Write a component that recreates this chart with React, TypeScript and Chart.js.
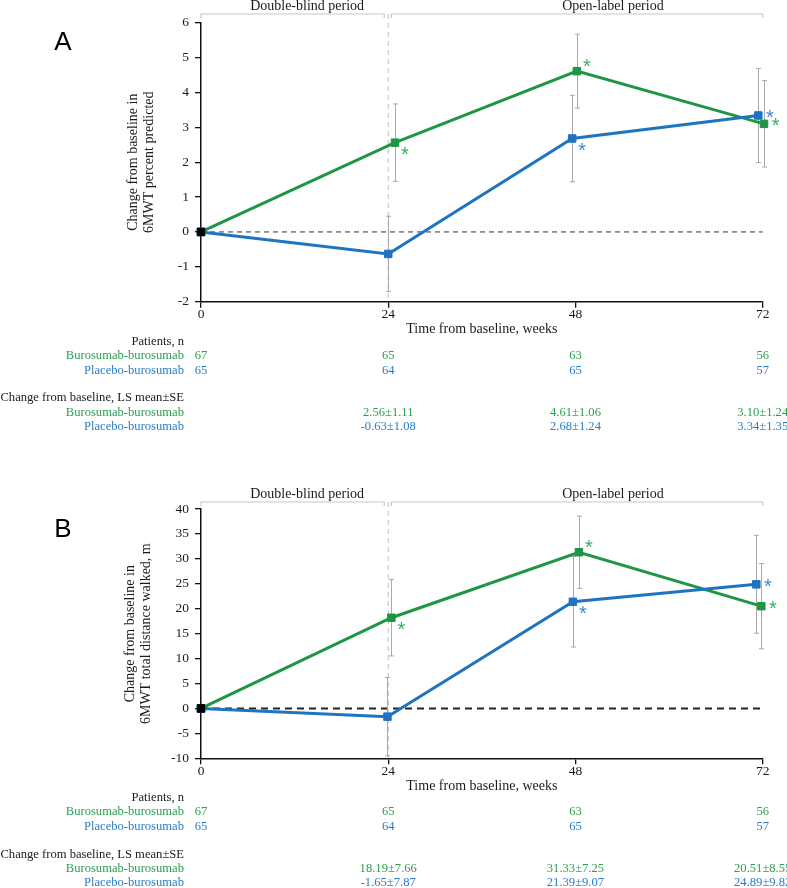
import React, { useEffect, useRef } from 'react';
import { Chart, registerables } from 'chart.js';
Chart.register(...registerables);

const SERIF = "'Liberation Serif', 'Times New Roman', serif";
const SANS = "'Liberation Sans', Arial, sans-serif";

// ---------- shared ----------
const weeks = [0, 24, 48, 72];
const periodLabels = ['Double-blind period', 'Open-label period'];
const groupNames = ['Burosumab-burosumab', 'Placebo-burosumab'];
const xTitle = 'Time from baseline, weeks';

// ---------- Panel A ----------
const aGreenMean = [0, 2.56, 4.61, 3.1];
const aGreenSE = [0, 1.11, 1.06, 1.24];
const aBlueMean = [0, -0.63, 2.68, 3.34];
const aBlueSE = [0, 1.08, 1.24, 1.35];
const aGreenDodge = [0, 0.86, 0.18, 0.17];
const aBlueDodge = [0, 0, -0.42, -0.56];
const aGreenStar = ['', 'se', 'ne', 'e'];
const aBlueStar = ['', '', 'se', 'e'];
const aGreenN = ['67', '65', '63', '56'];
const aBlueN = ['65', '64', '65', '57'];
const aGreenLS = ['', '2.56±1.11', '4.61±1.06', '3.10±1.24'];
const aBlueLS = ['', '-0.63±1.08', '2.68±1.24', '3.34±1.35'];
const aYTitle = ['Change from baseline in', '6MWT percent predicted'];

// ---------- Panel B ----------
const bGreenMean = [0, 18.19, 31.33, 20.51];
const bGreenSE = [0, 7.66, 7.25, 8.55];
const bBlueMean = [0, -1.65, 21.39, 24.89];
const bBlueSE = [0, 7.87, 9.07, 9.82];
const bGreenDodge = [0, 0.4, 0.44, -0.18];
const bBlueDodge = [0, -0.1, -0.33, -0.82];
const bGreenStar = ['', 'se', 'ne', 'e'];
const bBlueStar = ['', '', 'se', 'e'];
const bGreenN = ['67', '65', '63', '56'];
const bBlueN = ['65', '64', '65', '57'];
const bGreenLS = ['', '18.19±7.66', '31.33±7.25', '20.51±8.55'];
const bBlueLS = ['', '-1.65±7.87', '21.39±9.07', '24.89±9.82'];
const bYTitle = ['Change from baseline in', '6MWT total distance walked, m'];

const GREEN = '#1e9646';
const BLUE = '#1f74c2';
const GREEN_TXT = '#2a9f50';
const BLUE_TXT = '#2a7cc8';
const GREEN_STAR = '#3aae62';
const BLUE_STAR = '#3a88d4';

const starOffsets: Record<string, [number, number]> = {
  se: [10, 8.5],
  ne: [10, -8.5],
  e: [11.5, -1.5],
};

type Panel = {
  letter: string;
  height: number;
  padTop: number;
  padBottom: number;
  yMin: number;
  yMax: number;
  yStep: number;
  yTitle: string[];
  yTitlePad: number;
  bracketY: number;
  zeroWidth: number;
  zeroDash: number[];
  zeroColor: string;
  greenMean: number[];
  greenSE: number[];
  blueMean: number[];
  blueSE: number[];
  greenDodge: number[];
  blueDodge: number[];
  greenStar: string[];
  blueStar: string[];
  greenN: string[];
  blueN: string[];
  greenLS: string[];
  blueLS: string[];
};

const panelA: Panel = {
  letter: 'A', height: 456, padTop: 22.7, padBottom: 118.3,
  yMin: -2, yMax: 6, yStep: 1, yTitle: aYTitle, yTitlePad: 124.6, bracketY: 14,
  zeroWidth: 1, zeroDash: [5, 4], zeroColor: '#333',
  greenMean: aGreenMean, greenSE: aGreenSE, blueMean: aBlueMean, blueSE: aBlueSE,
  greenDodge: aGreenDodge, blueDodge: aBlueDodge, greenStar: aGreenStar, blueStar: aBlueStar,
  greenN: aGreenN, blueN: aBlueN, greenLS: aGreenLS, blueLS: aBlueLS,
};

const panelB: Panel = {
  letter: 'B', height: 432, padTop: 53, padBottom: 93.7,
  yMin: -10, yMax: 40, yStep: 5, yTitle: bYTitle, yTitlePad: 121.6, bracketY: 46,
  zeroWidth: 2, zeroDash: [7, 5], zeroColor: '#222',
  greenMean: bGreenMean, greenSE: bGreenSE, blueMean: bBlueMean, blueSE: bBlueSE,
  greenDodge: bGreenDodge, blueDodge: bBlueDodge, greenStar: bGreenStar, blueStar: bBlueStar,
  greenN: bGreenN, blueN: bBlueN, greenLS: bGreenLS, blueLS: bBlueLS,
};

function makePlugin(p: Panel) {
  const series = [
    { mean: p.greenMean, se: p.greenSE, dodge: p.greenDodge, star: p.greenStar, starColor: GREEN_STAR },
    { mean: p.blueMean, se: p.blueSE, dodge: p.blueDodge, star: p.blueStar, starColor: BLUE_STAR },
  ];
  return {
    id: 'panelDecor' + p.letter,
    beforeDatasetsDraw(chart: any) {
      const { ctx, chartArea, scales } = chart;
      const x = scales.x;
      const y = scales.y;
      const x24 = x.getPixelForValue(24);
      ctx.save();
      // vertical dashed separator
      ctx.strokeStyle = '#bdbdbd';
      ctx.lineWidth = 1;
      ctx.setLineDash([5, 4]);
      ctx.beginPath();
      ctx.moveTo(x24, p.bracketY);
      ctx.lineTo(x24, chartArea.bottom);
      ctx.stroke();
      // zero reference line
      ctx.strokeStyle = p.zeroColor;
      ctx.lineWidth = p.zeroWidth;
      ctx.setLineDash(p.zeroDash);
      const y0 = y.getPixelForValue(0);
      ctx.beginPath();
      ctx.moveTo(x.getPixelForValue(0), y0);
      ctx.lineTo(x.getPixelForValue(72), y0);
      ctx.stroke();
      ctx.setLineDash([]);
      // error bars
      ctx.strokeStyle = '#a9a9a9';
      ctx.lineWidth = 1;
      series.forEach((s) => {
        weeks.forEach((w, i) => {
          if (!s.se[i]) return;
          const px = Math.round(x.getPixelForValue(w + s.dodge[i])) + 0.5;
          const top = y.getPixelForValue(s.mean[i] + s.se[i]);
          const bot = y.getPixelForValue(s.mean[i] - s.se[i]);
          ctx.beginPath();
          ctx.moveTo(px, top);
          ctx.lineTo(px, bot);
          ctx.moveTo(px - 2.5, top);
          ctx.lineTo(px + 2.5, top);
          ctx.moveTo(px - 2.5, bot);
          ctx.lineTo(px + 2.5, bot);
          ctx.stroke();
        });
      });
      ctx.restore();
    },
    afterDatasetsDraw(chart: any) {
      const { ctx, scales } = chart;
      const x = scales.x;
      const y = scales.y;
      ctx.save();
      ctx.font = `20px ${SANS}`;
      ctx.textAlign = 'center';
      ctx.textBaseline = 'alphabetic';
      const m = ctx.measureText('*');
      const shift = (m.actualBoundingBoxAscent - m.actualBoundingBoxDescent) / 2;
      series.forEach((s) => {
        weeks.forEach((w, i) => {
          const k = s.star[i];
          if (!k) return;
          const off = starOffsets[k];
          const px = x.getPixelForValue(w + s.dodge[i]) + off[0];
          const py = y.getPixelForValue(s.mean[i]) + off[1];
          ctx.fillStyle = s.starColor;
          ctx.fillText('*', px, py + shift);
        });
      });
      ctx.restore();
    },
    afterDraw(chart: any) {
      const { ctx, chartArea, scales } = chart;
      const x = scales.x;
      const x0 = x.getPixelForValue(0);
      const x24 = x.getPixelForValue(24);
      const x72 = x.getPixelForValue(72);
      ctx.save();
      // brackets
      ctx.strokeStyle = '#c8c8c8';
      ctx.lineWidth = 1.2;
      const by = p.bracketY;
      const drawBracket = (a: number, b: number) => {
        ctx.beginPath();
        ctx.moveTo(a, by + 4);
        ctx.lineTo(a, by);
        ctx.lineTo(b, by);
        ctx.lineTo(b, by + 4);
        ctx.stroke();
      };
      drawBracket(x0, x24 - 4);
      drawBracket(x24 + 3, x72);
      // period labels
      ctx.fillStyle = '#1a1a1a';
      ctx.font = `14px ${SERIF}`;
      ctx.textAlign = 'center';
      ctx.textBaseline = 'middle';
      ctx.fillText(periodLabels[0], x.getPixelForValue(13.6), by - 8);
      ctx.fillText(periodLabels[1], x.getPixelForValue(52.8), by - 8);
      // panel letter
      ctx.font = `26px ${SANS}`;
      ctx.fillStyle = '#000';
      ctx.fillText(p.letter, 63, p.padTop + 20.5);
      // tables
      const b = chartArea.bottom;
      const labelX = 184;
      ctx.font = `12.6px ${SERIF}`;
      ctx.textBaseline = 'middle';
      const row = (label: string, color: string, yy: number, vals: string[] | null) => {
        ctx.fillStyle = color;
        ctx.textAlign = 'right';
        ctx.fillText(label, labelX, yy);
        if (vals) {
          ctx.textAlign = 'center';
          vals.forEach((v, i) => {
            if (!v) return;
            ctx.fillText(v, x.getPixelForValue(weeks[i]), yy);
          });
        }
      };
      row('Patients, n', '#1a1a1a', b + 39.5, null);
      row(groupNames[0], GREEN_TXT, b + 53.5, p.greenN);
      row(groupNames[1], BLUE_TXT, b + 68.5, p.blueN);
      row('Change from baseline, LS mean±SE', '#1a1a1a', b + 96, null);
      row(groupNames[0], GREEN_TXT, b + 110.5, p.greenLS);
      row(groupNames[1], BLUE_TXT, b + 124.5, p.blueLS);
      ctx.restore();
    },
  };
}

function makeConfig(p: Panel): any {
  const pts = (mean: number[], dodge: number[]) => weeks.map((w, i) => ({ x: w + dodge[i], y: mean[i] }));
  return {
    type: 'line',
    data: {
      datasets: [
        {
          label: 'Baseline',
          data: [{ x: 0, y: 0 }],
          showLine: false,
          pointStyle: 'rect',
          pointRadius: 5.3,
          pointBackgroundColor: '#000',
          pointBorderColor: '#000',
          pointBorderWidth: 1,
          clip: false,
        },
        {
          label: groupNames[1],
          data: pts(p.blueMean, p.blueDodge),
          borderColor: BLUE,
          backgroundColor: BLUE,
          borderWidth: 3,
          tension: 0,
          pointStyle: 'rect',
          pointRadius: 5.3,
          pointBackgroundColor: BLUE,
          pointBorderColor: BLUE,
          pointBorderWidth: 1,
          clip: false,
        },
        {
          label: groupNames[0],
          data: pts(p.greenMean, p.greenDodge),
          borderColor: GREEN,
          backgroundColor: GREEN,
          borderWidth: 3,
          tension: 0,
          pointStyle: 'rect',
          pointRadius: 5.3,
          pointBackgroundColor: GREEN,
          pointBorderColor: GREEN,
          pointBorderWidth: 1,
          clip: false,
        },
      ],
    },
    options: {
      responsive: false,
      animation: false,
      events: [],
      layout: { padding: { left: 0, right: 24.3, top: p.padTop, bottom: p.padBottom } },
      plugins: { legend: { display: false }, tooltip: { enabled: false } },
      scales: {
        x: {
          type: 'linear',
          min: 0,
          max: 72,
          afterFit: (s: any) => { s.height = 36; },
          afterBuildTicks: (s: any) => { s.ticks = weeks.map((v) => ({ value: v })); },
          ticks: { color: '#1a1a1a', padding: 0, font: { family: SERIF, size: 13.5, lineHeight: 1 } },
          grid: { display: true, drawOnChartArea: false, drawTicks: true, tickLength: 6, color: '#111', lineWidth: 1.3 },
          border: { display: true, color: '#111', width: 1.5 },
          title: { display: true, text: xTitle, color: '#1a1a1a', padding: 0, font: { family: SERIF, size: 14 } },
        },
        y: {
          type: 'linear',
          min: p.yMin,
          max: p.yMax,
          afterFit: (s: any) => { s.width = 201; },
          ticks: { stepSize: p.yStep, color: '#1a1a1a', padding: 6, font: { family: SERIF, size: 13.5 } },
          grid: { display: true, drawOnChartArea: false, drawTicks: true, tickLength: 6, color: '#111', lineWidth: 1.3 },
          border: { display: true, color: '#111', width: 1.5 },
          title: { display: true, text: p.yTitle, color: '#1a1a1a', padding: { top: p.yTitlePad, bottom: 0 }, font: { family: SERIF, size: 14 } },
        },
      },
    },
    plugins: [makePlugin(p)],
  };
}

function PanelChart({ panel, top }: { panel: Panel; top: number }) {
  const ref = useRef<HTMLCanvasElement | null>(null);
  useEffect(() => {
    if (!ref.current) return;
    const chart = new Chart(ref.current, makeConfig(panel));
    return () => chart.destroy();
  }, [panel]);
  return (
    <canvas
      ref={ref}
      width={787}
      height={panel.height}
      style={{ position: 'absolute', left: 0, top, width: 787, height: panel.height, display: 'block' }}
    />
  );
}

export default function App() {
  return (
    <div style={{ position: 'absolute', left: 0, top: 0, width: 787, height: 888, background: '#fff', overflow: 'hidden' }}>
      <PanelChart panel={panelA} top={0} />
      <PanelChart panel={panelB} top={456} />
    </div>
  );
}
